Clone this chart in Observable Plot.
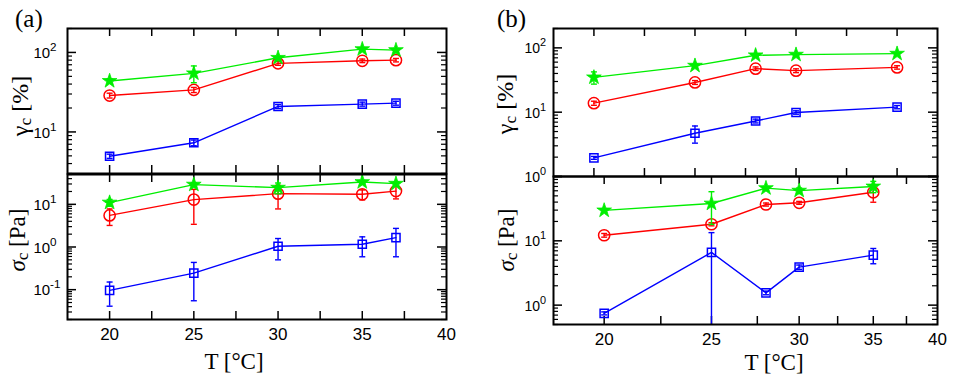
<!DOCTYPE html>
<html><head><meta charset="utf-8">
<script src="https://cdn.jsdelivr.net/npm/d3@7"></script>
<script src="https://cdn.jsdelivr.net/npm/@observablehq/plot@0.6"></script>
<style>
body{margin:0;background:#fff;}
#wrap{position:relative;width:955px;height:382px;overflow:hidden;background:#fff;}
#wrap svg{position:absolute;overflow:visible;}
.lab{position:absolute;font-family:"Liberation Serif","Times New Roman",serif;color:#000;white-space:nowrap;line-height:1;}
.rot{transform:translate(-50%,-50%) rotate(-90deg);}
.ctr{transform:translate(-50%,-50%);}
.lab sub{font-size:0.72em;vertical-align:-0.2em;}
</style></head><body><div id="wrap"></div>
<script>
// ---------- data ----------
const tempA = [20, 25, 30, 35, 37];
const tempB = [20, 25, 28, 30, 35];

// panel (a), gamma_c [%]
const gammaA_green = [43.8, 54.6, 85.6, 110, 107];
const gammaA_greenErr = [3, 13, 4, 5, 5];
const gammaA_red = [28.7, 33.8, 72.9, 78.5, 80];
const gammaA_redErr = [2, 2.5, 4, 4, 4];
const gammaA_blue = [4.95, 7.3, 20.9, 22.4, 23];
const gammaA_blueErr = [0.3, 0.6, 1.2, 1.3, 1.3];

// panel (a), sigma_c [Pa]
const sigmaA_green = [11, 29, 24.6, 33.3, 30.5];
const sigmaA_greenErr = [2, 3, 7, 3, 3];
const sigmaA_red = [5.5, 12.9, 17.8, 17.2, 20.4];
const sigmaA_redErr = [2.3, 9.5, 10, 4.5, 7];
const sigmaA_blue = [0.096, 0.245, 1.04, 1.16, 1.66];
const sigmaA_blueErr = [0.055, 0.19, 0.54, 0.57, 1.07];

// panel (b), gamma_c [%]
const gammaB_green = [34.8, 52.9, 76.6, 78.5, 81.3];
const gammaB_greenErr = [7.5, 3, 3, 3, 3];
const gammaB_red = [13.8, 29, 47.5, 44.2, 49.7];
const gammaB_redErr = [1, 2, 3, 3, 3];
const gammaB_blue = [1.95, 4.7, 7.3, 9.9, 12.0];
const gammaB_blueErr = [0.1, 1.4, 0.5, 0.6, 0.7];

// panel (b), sigma_c [Pa]
const sigmaB_green = [29.7, 38, 66, 60.3, 70];
const sigmaB_greenErr = [2, 20, 4, 6, 14];
const sigmaB_red = [12.2, 18.1, 36.7, 39, 56.8];
const sigmaB_redErr = [0.8, 1, 2, 2, 17];
const sigmaB_blue = [0.745, 6.6, 1.55, 3.9, 6.0];
const sigmaB_blueErr = [0.04, 6.8, 0.1, 0.3, 1.6];

// axis ticks / labels
const xTicksA = [20, 22.5, 25, 27.5, 30, 32.5, 35, 37.5];
const xLabelsA = [20, 25, 30, 35, 40];
const xTicksBup = [20, 22.5, 25, 27.5, 30, 32.5, 35];
const xTicksBlow = [20, 22.5, 25, 27.5, 30, 32.5, 35, 37.5];
const xLabelsB = [20, 25, 30, 35, 40];
const yLabelsAup = [10, 100];
const yLabelsAlow = [0.1, 1, 10];
const yLabelsBup = [1, 10, 100];
const yLabelsBlow = [1, 10];          // shown as 10^0, 10^1 ...
const yLabelTextBlow = ["0", "1"];    // exponents as printed

const GREEN = "#00ee00", RED = "#ff0000", BLUE = "#0000ff";

const capSymbol = {draw(ctx) { ctx.moveTo(-3, 0); ctx.lineTo(3, 0); }};

function rows(T, v, e, dom) {
  return T.map((t, i) => {
    const lo = v[i] - e[i];
    return {T: t, v: v[i], lo: lo > dom[0] ? lo : dom[0], hi: v[i] + e[i], clampLo: !(lo > dom[0])};
  });
}

function subplot(o) {
  const W = o.width - o.ml - o.mr, H = o.height - o.mt - o.mb;
  const logTicks = d3.scaleLog().domain(o.yDomain).ticks();
  const isMajor = d => Math.abs(Math.log10(d) - Math.round(Math.log10(d))) < 1e-9;
  const major = logTicks.filter(isMajor), minor = logTicks.filter(d => !isMajor(d));
  const marks = [];
  marks.push(Plot.tickY(major, {y: d => d, insetRight: W - 9, strokeWidth: 1.5}));
  marks.push(Plot.tickY(minor, {y: d => d, insetRight: W - 5, strokeWidth: 1.2}));
  marks.push(Plot.tickY(major, {y: d => d, insetLeft: W - 9, strokeWidth: 1.5}));
  marks.push(Plot.tickY(minor, {y: d => d, insetLeft: W - 5, strokeWidth: 1.2}));
  marks.push(Plot.tickX(o.xTicks, {x: d => d, insetBottom: H - 8, strokeWidth: 1.5}));
  marks.push(Plot.tickX(o.xTicks, {x: d => d, insetTop: H - 8, strokeWidth: 1.5}));
  for (const s of o.series) {
    const data = rows(o.T, s.v, s.e, o.yDomain);
    marks.push(Plot.line(data, {x: "T", y: "v", stroke: s.color, strokeWidth: 1.4}));
    marks.push(Plot.ruleX(data, {x: "T", y1: "lo", y2: "hi", stroke: s.color, strokeWidth: 1.4}));
    marks.push(Plot.dot(data, {x: "T", y: "hi", symbol: capSymbol, stroke: s.color, strokeWidth: 1.4}));
    marks.push(Plot.dot(data.filter(d => !d.clampLo), {x: "T", y: "lo", symbol: capSymbol, stroke: s.color, strokeWidth: 1.4}));
    if (s.symbol === "star")
      marks.push(Plot.dot(data, {x: "T", y: "v", symbol: "star", r: 4.6, fill: s.color, stroke: s.color, strokeWidth: 0.8}));
    else
      marks.push(Plot.dot(data, {x: "T", y: "v", symbol: s.symbol, r: s.symbol === "square" ? 4.6 : 5.6, fill: "none", stroke: s.color, strokeWidth: 1.5}));
  }
  marks.push(Plot.text(o.yLabels, {y: d => d, text: () => "10", frameAnchor: "left", textAnchor: "start", dx: o.ylx, dy: 1, fontSize: o.yfs, fontFamily: "Liberation Sans, Arial, sans-serif", fill: "black"}));
  marks.push(Plot.text(o.yLabels, {y: d => d, text: (d, i) => o.yExp ? o.yExp[i] : String(Math.round(Math.log10(d))), frameAnchor: "left", textAnchor: "start", dx: o.ylx + o.yfs * 1.1, dy: -5, fontSize: o.yfs * 0.78, fontFamily: "Liberation Sans, Arial, sans-serif", fill: "black"}));
  if (o.xLabels) {
    marks.push(Plot.text(o.xLabels, {x: d => d, text: d => String(d), frameAnchor: "bottom", dy: 20, fontSize: 17, fontFamily: "Liberation Sans, Arial, sans-serif", fill: "black"}));
  }
  marks.push(Plot.frame({stroke: "black", strokeWidth: 2}));
  const svg = Plot.plot({
    width: o.width, height: o.height,
    marginLeft: o.ml, marginRight: o.mr, marginTop: o.mt, marginBottom: o.mb,
    x: {type: o.xType, domain: o.xDomain, axis: null},
    y: {type: "log", domain: o.yDomain, axis: null},
    style: {background: "transparent", overflow: "visible"},
    marks
  });
  svg.style.left = o.left + "px";
  svg.style.top = o.top + "px";
  return svg;
}

const wrap = document.getElementById("wrap");

// (a) upper
wrap.appendChild(subplot({left: 0, top: 0, width: 470, height: 176, ml: 67, mr: 24, mt: 28, mb: 3,
  xType: "linear", xDomain: [17.5, 40], xTicks: xTicksA, T: tempA,
  yDomain: [3, 200], yLabels: yLabelsAup, ylx: -34, yfs: 15,
  series: [
    {v: gammaA_red, e: gammaA_redErr, color: RED, symbol: "circle"},
    {v: gammaA_blue, e: gammaA_blueErr, color: BLUE, symbol: "square"},
    {v: gammaA_green, e: gammaA_greenErr, color: GREEN, symbol: "star"}]}));
// (a) lower
wrap.appendChild(subplot({left: 0, top: 164, width: 470, height: 200, ml: 67, mr: 24, mt: 10, mb: 45,
  xType: "linear", xDomain: [17.5, 40], xTicks: xTicksA, xLabels: xLabelsA, T: tempA,
  yDomain: [0.02, 50], yLabels: yLabelsAlow, ylx: -34, yfs: 15,
  series: [
    {v: sigmaA_red, e: sigmaA_redErr, color: RED, symbol: "circle"},
    {v: sigmaA_blue, e: sigmaA_blueErr, color: BLUE, symbol: "square"},
    {v: sigmaA_green, e: sigmaA_greenErr, color: GREEN, symbol: "star"}]}));
// (b) upper
wrap.appendChild(subplot({left: 486, top: 0, width: 469, height: 178, ml: 67, mr: 18, mt: 28, mb: 2,
  xType: "linear", xDomain: [18, 37], xTicks: xTicksBup, T: tempB,
  yDomain: [1, 200], yLabels: yLabelsBup, ylx: -29, yfs: 14,
  series: [
    {v: gammaB_red, e: gammaB_redErr, color: RED, symbol: "circle"},
    {v: gammaB_blue, e: gammaB_blueErr, color: BLUE, symbol: "square"},
    {v: gammaB_green, e: gammaB_greenErr, color: GREEN, symbol: "star"}]}));
// (b) lower
wrap.appendChild(subplot({left: 486, top: 166, width: 469, height: 200, ml: 67, mr: 18, mt: 10, mb: 42,
  xType: "log", xDomain: [18, 40], xTicks: xTicksBlow, xLabels: xLabelsB, T: tempB,
  yDomain: [0.5, 100], yLabels: yLabelsBlow, yExp: yLabelTextBlow, ylx: -29, yfs: 14,
  series: [
    {v: sigmaB_red, e: sigmaB_redErr, color: RED, symbol: "circle"},
    {v: sigmaB_blue, e: sigmaB_blueErr, color: BLUE, symbol: "square"},
    {v: sigmaB_green, e: sigmaB_greenErr, color: GREEN, symbol: "star"}]}));

// text labels
function lab(html, x, y, size, cls) {
  const d = document.createElement("div");
  d.className = "lab " + (cls || "");
  d.innerHTML = html;
  d.style.left = x + "px"; d.style.top = y + "px"; d.style.fontSize = size + "px";
  wrap.appendChild(d);
}
lab("(a)", 15, 6, 25);
lab("(b)", 497, 6, 25);
lab("γ<sub>c</sub> [%]", 21, 106, 24, "rot");
lab("<i>σ</i><sub>c</sub> [Pa]", 19, 240, 23, "rot");
lab("γ<sub>c</sub> [%]", 506, 104, 24, "rot");
lab("<i>σ</i><sub>c</sub> [Pa]", 508, 240, 23, "rot");
lab("T [°C]", 234, 361, 23, "ctr");
lab("T [°C]", 774, 362, 23, "ctr");
</script></body></html>
